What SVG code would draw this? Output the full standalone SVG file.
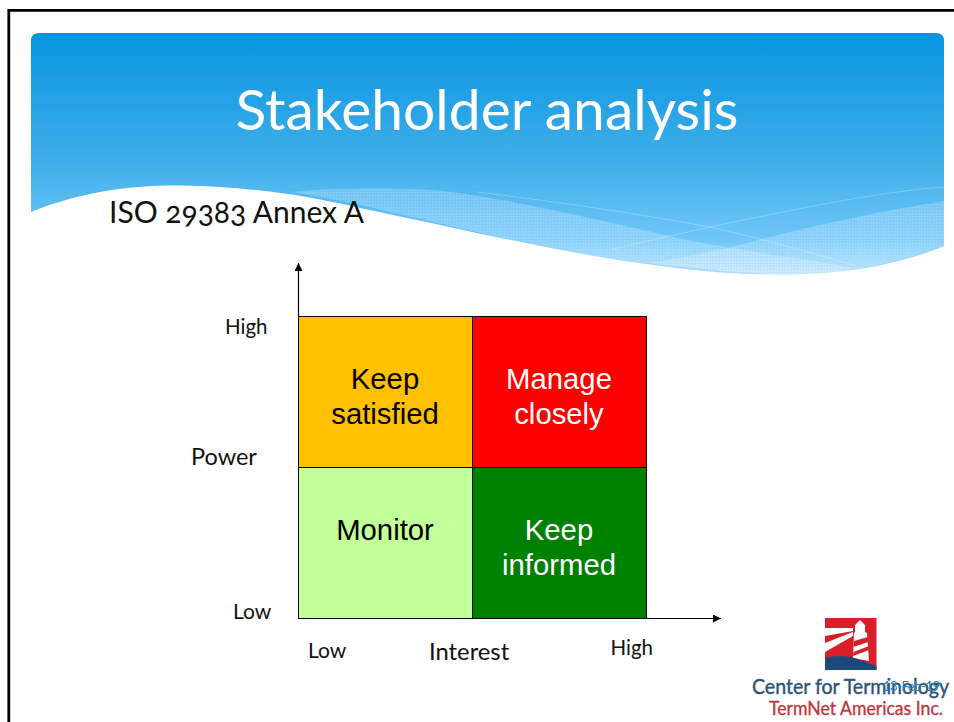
<svg xmlns="http://www.w3.org/2000/svg" width="954" height="722" viewBox="0 0 954 722">
<style>
.ui{font-family:Lato,"Open Sans",sans-serif;fill:#111}
.ar{font-family:"Liberation Sans",Arial,sans-serif;font-size:29.300px;text-anchor:middle}
.cell{stroke:#000;stroke-width:1}
.conn{stroke:#000;stroke-width:1.2;fill:none}
</style>
<defs>
<linearGradient id="sky" x1="0" y1="33" x2="0" y2="276" gradientUnits="userSpaceOnUse">
<stop offset="0" stop-color="#0694e0"/><stop offset="0.5" stop-color="#3cade9"/><stop offset="0.85" stop-color="#6fc6f8"/><stop offset="1" stop-color="#a9dcfb"/>
</linearGradient>
<pattern id="dots" width="3" height="3" patternUnits="userSpaceOnUse">
<rect width="3" height="3" fill="#fff" fill-opacity="0.18"/><rect width="1.5" height="1.5" fill="#fff" fill-opacity="0.18"/>
</pattern>
<marker id="arr" markerWidth="9" markerHeight="8" refX="8" refY="4" orient="auto" markerUnits="userSpaceOnUse"><path d="M0 0L8 4L0 8z" fill="#000"/></marker>
</defs>
<g id="frame"><path d="M8.800 722V10.300H954" fill="none" stroke="#000" stroke-width="2.800"/></g>
<g id="banner">
<path d="M31 212C80 192 130 185 180 185.500C250 187 300 194 360 208C477 232 560 254 677 268C740 276 800 276 844 271C880 267 915 258 944 246V41Q944 33 936 33H39Q31 33 31 41Z" fill="url(#sky)"/>
<path d="M290 192C340 187 430 186 477 196C530 204 610 222 677 238C730 249 800 258 860 269C820 274 770 276 730 272C640 264 560 254 477 232C420 220 350 200 290 192Z" fill="url(#dots)"/>
<path d="M944 201C880 211 810 226 727 248C700 254 680 258 650 263C700 269 770 276 810 274C860 272 910 259 944 246Z" fill="url(#dots)"/>
<path d="M477 192C560 202 640 214 710 227C770 241 820 255 860 267M944 187C880 192 810 206 710 227C680 234 640 242 610 250" fill="none" stroke="#fff" stroke-opacity="0.25" stroke-width="1"/>
<text x="487" y="130" font-size="56" text-anchor="middle" class="ui" style="fill:#fff" textLength="503" lengthAdjust="spacingAndGlyphs">Stakeholder analysis</text>
</g>
<g id="subtitle"><text x="109" y="223" font-size="30" class="ui" style="font-feature-settings:'onum'" textLength="255" lengthAdjust="spacingAndGlyphs">ISO 29383 Annex A</text></g>
<g id="cell-keep-satisfied"><rect class="cell" x="298.500" y="316.500" width="174" height="151" fill="#ffc000"/><text class="ar" x="385" y="388.500">Keep</text><text class="ar" x="385" y="423.500">satisfied</text></g>
<g id="cell-manage-closely"><rect class="cell" x="472.500" y="316.500" width="174" height="151" fill="#f00"/><text class="ar" x="559" y="388.500" fill="#fff">Manage</text><text class="ar" x="559" y="423.500" fill="#fff">closely</text></g>
<g id="cell-monitor"><rect class="cell" x="298.500" y="467.500" width="174" height="151" fill="#c1ff99"/><text class="ar" x="385" y="539.500">Monitor</text></g>
<g id="cell-keep-informed"><rect class="cell" x="472.500" y="467.500" width="174" height="151" fill="#008000"/><text class="ar" x="559" y="539.500" fill="#fff">Keep</text><text class="ar" x="559" y="574.500" fill="#fff">informed</text></g>
<g id="connectors">
<path class="conn" d="M298.500 316V263" marker-end="url(#arr)"/>
<path class="conn" d="M646 618.500H721" marker-end="url(#arr)"/>
</g>
<g id="axis-labels">
<text class="ui" x="225" y="333.500" font-size="20.500">High</text>
<text class="ui" x="191" y="464.500" font-size="23.500">Power</text>
<text class="ui" x="233" y="618.500" font-size="21">Low</text>
<text class="ui" x="308" y="657.500" font-size="21">Low</text>
<text class="ui" x="429" y="659.500" font-size="23.800">Interest</text>
<text class="ui" x="610.500" y="654.500" font-size="20.500">High</text>
</g>
<g id="logo">
<rect x="825" y="618" width="51.500" height="52" fill="#d81f2a"/>
<path d="M825 628L853 628V631L825 636ZM825 643L853 632V636L825 652Z" fill="#fff"/>
<path d="M855 632V625L860 620L865 625V632L867 633L869 661L853 658L854 633Z" fill="#fff"/>
<path d="M854 641L868 637V642L853.500 647ZM853.500 652L869 646V650L853 656Z" fill="#d81f2a"/>
<path d="M825 658C835 655 850 655 860 660L876.500 666V670H825Z" fill="#1d4a7c"/>
<text x="752" y="693.500" font-size="21" class="ui" style="fill:#2b5376;stroke:#2b5376;stroke-width:.4" textLength="197" lengthAdjust="spacingAndGlyphs">Center for Terminology</text>
<text x="769" y="715" font-size="18.500" class="ui" style="fill:#c0333a;stroke:#c0333a;stroke-width:.3" textLength="174" lengthAdjust="spacingAndGlyphs">TermNet Americas Inc.</text>
</g>
<g id="date"><text x="883" y="691" font-size="13" class="ui" style="fill:#2b7fb5" textLength="57">13-Feb-19</text></g>
</svg>
